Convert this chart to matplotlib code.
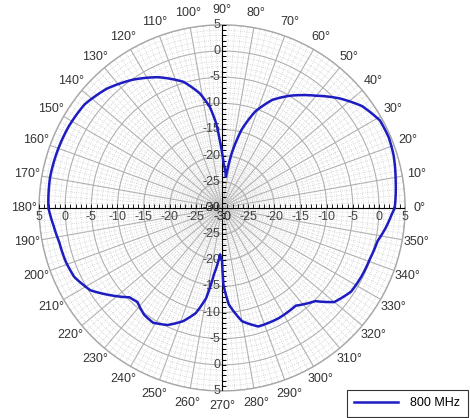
import numpy as np
import matplotlib
matplotlib.use("Agg")
import matplotlib.pyplot as plt
from matplotlib.ticker import MultipleLocator

plt.rcParams['font.family'] = ['Liberation Sans', 'DejaVu Sans']

# === Data (derajat, dB) ===
angle_deg = [0, 9, 17, 23, 29, 36, 43, 50, 59, 65, 71, 76, 80, 83,
             88, 90, 92, 94, 97, 101, 107, 116, 125, 134, 143, 152, 160, 170,
             180, 186, 192, 199, 205, 212, 218, 224, 228, 234, 239, 245, 251,
             256, 260, 263, 267.5, 270, 271, 274, 280, 287, 297, 307, 315,
             320, 327, 334, 341, 348, 353, 358, 360]
gain_db = [3.0, 3.6, 4.3, 4.6, 4.5, 3.1, 0.7, -2.0, -5.0, -7.2, -10.5, -14.6, -19.4, -24.0,
           -21.5, -19.5, -17.0, -13.8, -10.5, -7.7, -4.8, -2.2, -0.1, 1.7, 2.9, 3.2, 3.3, 3.4,
           3.2, 2.4, 1.8, 1.6, 1.2, -0.3, -2.9, -5.4, -5.8, -4.7, -4.4, -5.3, -7.1,
           -9.3, -12.5, -17.2, -21.1, -19.8, -15.3, -11.5, -8.0, -6.3, -6.3, -6.6, -4.8,
           -2.0, -0.6, -0.3, -0.1, 0.4, 1.5, 2.5, 3.0]
series_label = "800 MHz"

r_min, r_max = -30, 5
r_labels = [5, 0, -5, -10, -15, -20, -25, -30]
theta_labels = list(range(0, 360, 10))

fig = plt.figure(figsize=(4.7, 4.18), dpi=100)
ax = fig.add_axes([0.083, 0.0646, 0.779, 0.876], projection='polar')

ax.set_ylim(r_min, r_max)
ax.set_yticks([-25, -20, -15, -10, -5, 0, 5])
ax.set_yticklabels([])
ax.yaxis.set_minor_locator(MultipleLocator(1))
ax.set_xticks(np.deg2rad(theta_labels))
ax.set_xticklabels([f"{d}°" for d in theta_labels], color='#333333', fontsize=9)
ax.set_xticks(np.deg2rad(np.arange(0, 360, 2)), minor=True)
ax.tick_params(axis='x', pad=0)

ax.grid(True, which='major', color='#b0b0b0', linewidth=0.8, linestyle='-')
ax.grid(True, which='minor', color='#cccccc', linewidth=0.6, linestyle=':')
ax.spines['polar'].set_color('#a8a8a8')
ax.spines['polar'].set_linewidth(1.0)

# sumbu silang hitam lewat pusat
for th in [0, np.pi / 2, np.pi, 3 * np.pi / 2]:
    ax.plot([th, th], [r_min, r_max], color='black', lw=0.8, zorder=3)

ticks_r = np.arange(r_min + 1, r_max + 1)
for th in [0, np.pi]:
    ax.plot(np.full(len(ticks_r), th), ticks_r, ls='none', marker=2,
            ms=2.8, mew=0.6, color='black', zorder=3)
for th in [np.pi / 2, 3 * np.pi / 2]:
    ax.plot(np.full(len(ticks_r), th), ticks_r, ls='none', marker=1,
            ms=2.8, mew=0.6, color='black', zorder=3)

# label radial di sepanjang sumbu
for v in r_labels:
    for th in [0, np.pi]:
        ax.annotate(str(v), xy=(th, v), xytext=(0, -2), textcoords='offset points',
                    ha='center', va='top', fontsize=9, color='#444444', zorder=4)
    for th in [np.pi / 2, 3 * np.pi / 2]:
        ax.annotate(str(v), xy=(th, v), xytext=(-1, 0), textcoords='offset points',
                    ha='right', va='center', fontsize=9, color='#444444', zorder=4)

line, = ax.plot(np.deg2rad(angle_deg), gain_db, color='#1c1cc0', lw=1.8,
                label=series_label, zorder=5)
# biar segmen ikut busur polar (bukan garis lurus)
line.get_path()._interpolation_steps = 30

leg = fig.legend(loc='lower right', bbox_to_anchor=(0.998, 0.0), frameon=True,
                 fancybox=False, edgecolor='black', fontsize=9,
                 handlelength=3.5, handletextpad=1.0, borderaxespad=0.1,
                 borderpad=0.6)
leg.get_frame().set_linewidth(0.8)

fig.savefig("out.png", dpi=100)
